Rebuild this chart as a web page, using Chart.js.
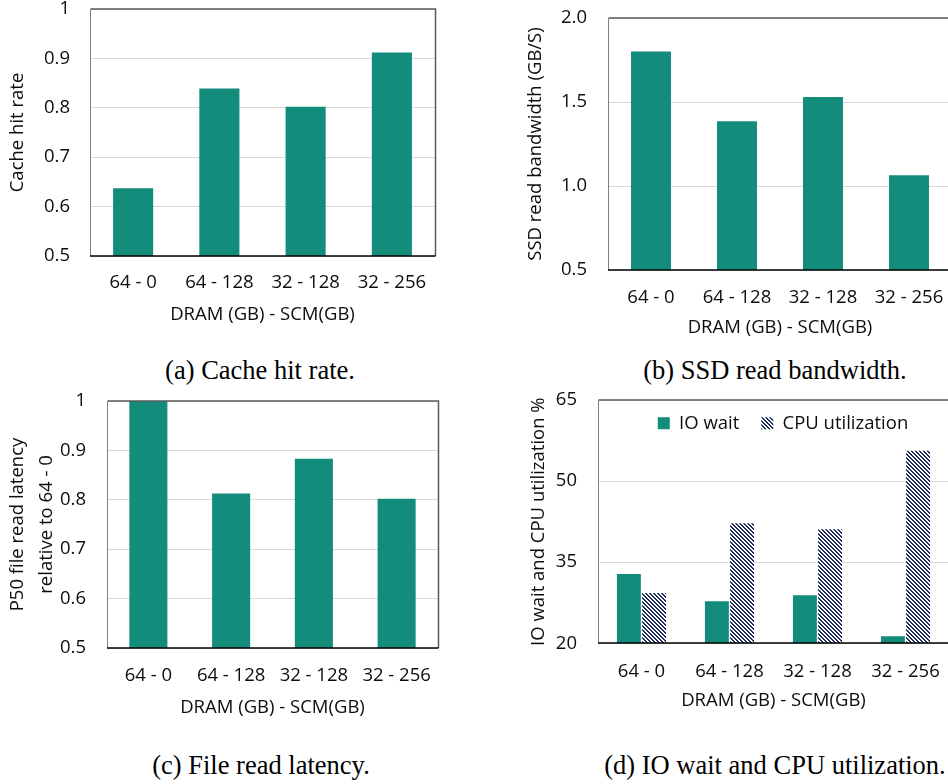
<!DOCTYPE html>
<html>
<head>
<meta charset="utf-8">
<title>DRAM / SCM configurations</title>
<script src="https://cdn.jsdelivr.net/npm/chart.js@4.4.1/dist/chart.umd.min.js"></script>
<style>
  html, body { margin: 0; padding: 0; background: #fff; width: 948px; height: 784px; overflow: hidden; }
  canvas.panel { position: absolute; }
  .caption {
    position: absolute; width: 420px; text-align: center; white-space: nowrap;
    font-family: "Liberation Serif", "Times New Roman", serif; font-size: 26.5px; line-height: 30px; color: #000;
  }
</style>
</head>
<body>
<canvas id="panelA" class="panel" width="474" height="340" style="left:0;top:0;width:474px;height:340px"></canvas>
<canvas id="panelB" class="panel" width="500" height="340" style="left:474px;top:0;width:500px;height:340px"></canvas>
<canvas id="panelC" class="panel" width="474" height="340" style="left:0;top:390px;width:474px;height:340px"></canvas>
<canvas id="panelD" class="panel" width="500" height="340" style="left:474px;top:390px;width:500px;height:340px"></canvas>

<div class="caption" style="left:50px;top:355px">(a) Cache hit rate.</div>
<div class="caption" style="left:565px;top:355px">(b) SSD read bandwidth.</div>
<div class="caption" style="left:51px;top:750px">(c) File read latency.</div>
<div class="caption" style="left:565px;top:750px">(d) IO wait and CPU utilization.</div>

<script>
// Memory configurations: DRAM (GB) - SCM (GB)
const configs = ['64 - 0', '64 - 128', '32 - 128', '32 - 256'];

// (a) cache hit rate
const cacheHitRate = [0.637, 0.839, 0.802, 0.912];
const hitRateAxis = [0.5, 1.0, 0.1];          // min, max, step

// (b) SSD read bandwidth, GB/s
const ssdBandwidth = [1.80, 1.385, 1.53, 1.064];
const bandwidthAxis = [0.5, 2.0, 0.5];

// (c) P50 file read latency relative to 64 - 0
const p50Latency = [1.0, 0.813, 0.883, 0.802];
const latencyAxis = [0.5, 1.0, 0.1];

// (d) IO wait and CPU utilization, %
const ioWait = [32.8, 27.8, 28.9, 21.3];
const cpuUtil = [29.3, 42.2, 41.1, 55.6];
const utilAxis = [20, 65, 15];

const FONT = "'Open Sans', 'Noto Sans', sans-serif";
const TEXT = '#0d0d0d';
const TEAL = '#148c7c';
const NAVY = '#1f2c5c';

// Box around the plot area: grey left/top/right, black baseline
const plotFrame = {
  id: 'plotFrame',
  afterDraw(chart) {
    const { ctx, chartArea: a } = chart;
    const l = Math.round(a.left) + 0.5, t = Math.round(a.top) + 0.5;
    const r = Math.round(a.right) + 0.5, b = Math.round(a.bottom);
    ctx.save();
    ctx.strokeStyle = '#7f7f7f';
    ctx.lineWidth = 1;
    ctx.beginPath(); ctx.moveTo(l, b); ctx.lineTo(l, t); ctx.stroke();
    ctx.strokeStyle = '#5a5a5a';
    ctx.lineWidth = 1.5;
    ctx.beginPath(); ctx.moveTo(l, a.top); ctx.lineTo(r, a.top); ctx.lineTo(r, b); ctx.stroke();
    ctx.strokeStyle = '#000';
    ctx.lineWidth = 1.5;
    ctx.beginPath(); ctx.moveTo(l - 0.5, b); ctx.lineTo(r, b); ctx.stroke();
    ctx.restore();
  }
};

// Lets the legend sit inside the plot area instead of taking layout space
const insetLegend = {
  id: 'insetLegend',
  beforeLayout(chart) {
    const lg = chart.legend;
    if (lg && !lg._insetPatched) {
      const fit = lg.fit.bind(lg);
      lg.fit = function () { fit(); this._fullHeight = this.height; this.height = 0; };
      lg._insetPatched = true;
    }
  },
  afterLayout(chart, args, opts) {
    const lg = chart.legend;
    if (!lg || !lg.lineWidths) return;
    const pad = lg.options.labels.padding;
    const lw = lg.lineWidths[0];
    const span = lw - pad;                 // items plus the gap between them
    const start = opts.centerX - span / 2;
    lg.left = start - pad;
    lg.right = lg.left + lw + pad;
    lg.width = lg.right - lg.left;
    lg.top = opts.top;
    lg.bottom = opts.top + (lg._fullHeight || 40);
    lg.height = lg.bottom - lg.top;
  }
};

function stripes(canvas) {
  const tile = document.createElement('canvas');
  tile.width = 4; tile.height = 4;
  const g = tile.getContext('2d');
  g.fillStyle = '#ffffff';
  g.fillRect(0, 0, 4, 4);
  g.fillStyle = NAVY;
  for (let y = 0; y < 4; y++) {
    for (let x = 0; x < 4; x++) {
      if ((((x - y) % 4) + 4) % 4 < 2) g.fillRect(x, y, 1, 1);
    }
  }
  return canvas.getContext('2d').createPattern(tile, 'repeat');
}

function makePanel(canvas, p) {
  const font = { family: FONT, size: 18.5 };
  return new Chart(canvas, {
    type: 'bar',
    data: { labels: configs, datasets: p.datasets },
    options: {
      responsive: false,
      animation: false,
      events: [],
      layout: { padding: { top: p.padTop, right: p.padRight, left: 0, bottom: 0 } },
      plugins: {
        legend: p.legend || { display: false },
        tooltip: { enabled: false },
        insetLegend: p.insetLegend || false
      },
      scales: {
        x: {
          grid: { display: false, drawTicks: false },
          border: { display: false },
          ticks: { font, color: TEXT, padding: p.xTickPad, maxRotation: 0 },
          title: {
            display: true, text: 'DRAM (GB) - SCM(GB)', font, color: TEXT,
            padding: { top: 0, bottom: p.xTitlePad }
          },
          afterFit(s) { s.height = p.xHeight; s.paddingLeft = 0; s.paddingRight = 0; }
        },
        y: {
          min: p.axis[0], max: p.axis[1],
          grid: { color: '#d9d9d9', lineWidth: 1, drawTicks: false },
          border: { display: false },
          ticks: { stepSize: p.axis[2], font, color: TEXT, padding: p.yTickPad, callback: p.tickFormat },
          title: {
            display: true, text: p.yTitle, color: TEXT,
            font: { family: FONT, size: 18.5, lineHeight: p.yTitleLineHeight || 1.2 },
            padding: { top: p.yTitlePad, bottom: 0 }
          },
          afterFit(s) { s.width = p.yWidth; s.paddingTop = 0; s.paddingBottom = 0; }
        }
      }
    },
    plugins: [plotFrame].concat(p.insetLegend ? [insetLegend] : [])
  });
}

const oneDecimalTrim = v => String(Number(v.toFixed(1)));

makePanel(document.getElementById('panelA'), {
  datasets: [{ label: 'Cache hit rate', data: cacheHitRate, backgroundColor: TEAL,
               barPercentage: 0.465, categoryPercentage: 1.0 }],
  axis: hitRateAxis, tickFormat: oneDecimalTrim, yTitle: 'Cache hit rate',
  padTop: 9, padRight: 39, yWidth: 90, xHeight: 84,
  yTickPad: 20, yTitlePad: 7, xTickPad: 16, xTitlePad: 14
});

makePanel(document.getElementById('panelB'), {
  datasets: [{ label: 'SSD read bandwidth', data: ssdBandwidth, backgroundColor: TEAL,
               barPercentage: 0.465, categoryPercentage: 1.0 }],
  axis: bandwidthAxis, tickFormat: v => v.toFixed(1), yTitle: 'SSD read bandwidth (GB/S)',
  padTop: 18, padRight: 22, yWidth: 134, xHeight: 70,
  yTickPad: 21, yTitlePad: 51, xTickPad: 17, xTitlePad: 1
});

makePanel(document.getElementById('panelC'), {
  datasets: [{ label: 'P50 file read latency', data: p50Latency, backgroundColor: TEAL,
               barPercentage: 0.46, categoryPercentage: 1.0 }],
  axis: latencyAxis, tickFormat: oneDecimalTrim,
  yTitle: ['P50 file read latency', 'relative to 64 - 0'], yTitleLineHeight: 29 / 18.5,
  padTop: 11, padRight: 36, yWidth: 107, xHeight: 82,
  yTickPad: 21, yTitlePad: 3.5, xTickPad: 17, xTitlePad: 11
});

const canvasD = document.getElementById('panelD');
makePanel(canvasD, {
  datasets: [
    { label: 'IO wait', data: ioWait, backgroundColor: TEAL, borderWidth: 0,
      barPercentage: 0.95, categoryPercentage: 0.573 },
    { label: 'CPU utilization', data: cpuUtil, backgroundColor: stripes(canvasD), borderWidth: 0,
      barPercentage: 0.95, categoryPercentage: 0.573 }
  ],
  axis: utilAxis, tickFormat: v => String(v), yTitle: 'IO wait and CPU utilization %',
  legend: {
    display: true, position: 'top', align: 'center',
    labels: { boxWidth: 12, boxHeight: 12, padding: 22, color: TEXT, font: { family: FONT, size: 18.5 } }
  },
  insetLegend: { centerX: 309, top: 2 },
  padTop: 10, padRight: 24.5, yWidth: 123.5, xHeight: 86.7,
  yTickPad: 20.5, yTitlePad: 54, xTickPad: 17.6, xTitlePad: 18
});
</script>
</body>
</html>
